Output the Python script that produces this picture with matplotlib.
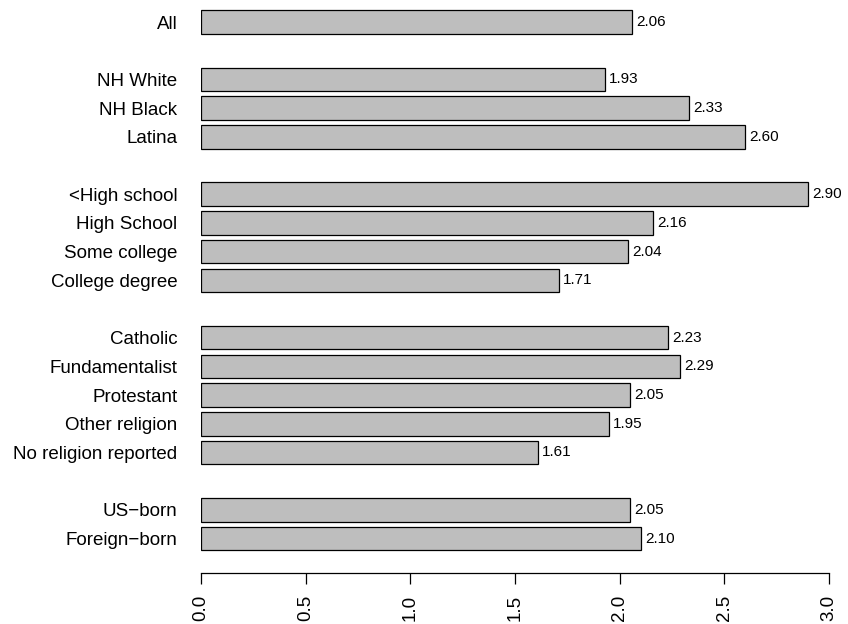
import matplotlib.pyplot as plt

plt.rcParams['font.family'] = ['Liberation Sans', 'DejaVu Sans']

# groups of bars, one blank slot between groups
groups = [
    ["All"],
    ["NH White", "NH Black", "Latina"],
    ["<High school", "High School", "Some college", "College degree"],
    ["Catholic", "Fundamentalist", "Protestant", "Other religion",
     "No religion reported"],
    ["US\u2212born", "Foreign\u2212born"],
]
group_values = [
    [2.06],
    [1.93, 2.33, 2.60],
    [2.90, 2.16, 2.04, 1.71],
    [2.23, 2.29, 2.05, 1.95, 1.61],
    [2.05, 2.10],
]
x_ticks = [0.0, 0.5, 1.0, 1.5, 2.0, 2.5, 3.0]

labels = []
values = []
slots = []
pos = 0
for names, vals in zip(groups, group_values):
    for n, v in zip(names, vals):
        labels.append(n)
        values.append(v)
        slots.append(pos)
        pos += 1
    pos += 1  # gap

fig = plt.figure(figsize=(8.48, 6.24), dpi=100)
ax = fig.add_axes([201 / 848, 1 - 573 / 624, 628 / 848, (573 - 4.8) / 624])

ax.barh(slots, values, height=0.82, color='#BEBEBE', edgecolor='black',
        linewidth=0.9)
for s, v in zip(slots, values):
    ax.annotate(f"{v:.2f}", (v, s), xytext=(3, 0), textcoords='offset points',
                va='center', ha='left', fontsize=11, annotation_clip=False)

ax.set_xlim(0, 3)
ax.set_ylim(19.2, -0.6)
ax.set_yticks(slots)
ax.set_yticklabels(labels, fontsize=13.5)
ax.tick_params(axis='y', length=0, pad=17)
ax.set_xticks(x_ticks)
ax.set_xticklabels([f"{t:.1f}" for t in x_ticks], rotation=90, fontsize=13.5)
ax.tick_params(axis='x', length=8, width=0.9, pad=8)
for side in ['top', 'right', 'left']:
    ax.spines[side].set_visible(False)
ax.spines['bottom'].set_bounds(0, 3)
ax.spines['bottom'].set_linewidth(0.9)
ax.patch.set_visible(False)

fig.savefig('out.png', dpi=100)
